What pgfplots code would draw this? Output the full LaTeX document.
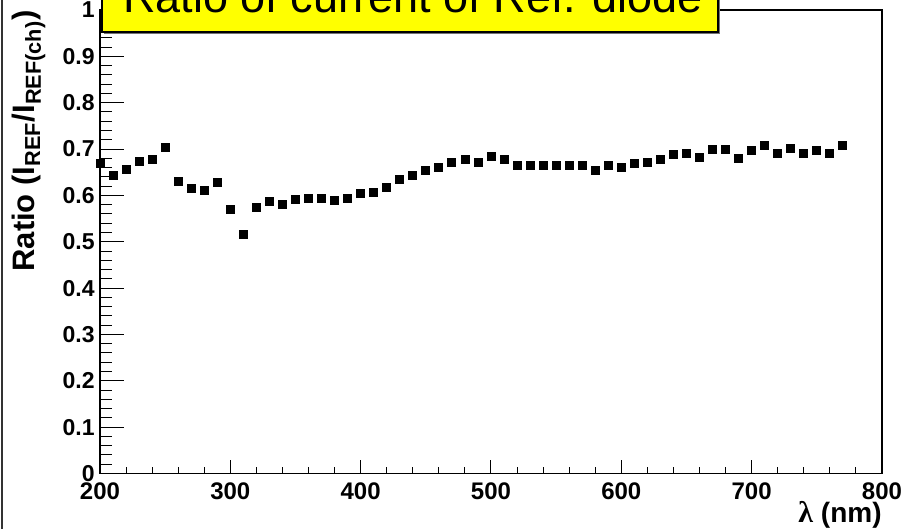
\documentclass[border=0pt]{standalone}
\usepackage{fontspec}
\setmainfont{Liberation Sans}
\newfontfamily\symfont{Liberation Serif}
\usepackage{pgfplots}
\pgfplotsset{compat=1.18}

\definecolor{paveyellow}{RGB}{255,255,0}

\begin{document}
\begin{tikzpicture}
% canvas: 906x529 px, 1px = 0.5pt, origin at the lower left corner of the frame
\useasboundingbox (-50pt,-27.75pt) rectangle (403pt,236.75pt);
\clip (-50pt,-27.75pt) rectangle (403pt,236.75pt);
\begin{axis}[
  scale only axis,
  width=391pt, height=231.75pt,
  xmin=200, xmax=800,
  ymin=0, ymax=1,
  xtick={200,300,400,500,600,700,800},
  ytick={0,0.1,0.2,0.3,0.4,0.5,0.6,0.7,0.8,0.9,1},
  minor x tick num=4,
  minor y tick num=4,
  tick align=inside,
  tick pos=left,
  axis line style={line width=0.75pt},
  every tick/.style={black, line width=0.5pt},
  xtick style={/pgfplots/major tick length=6.5pt, /pgfplots/minor tick length=3.25pt},
  ytick style={/pgfplots/major tick length=12pt, /pgfplots/minor tick length=6pt},
  /pgf/number format/assume math mode=true,
  ticklabel style={font=\fontsize{11.5}{13}\selectfont\bfseries},
  yticklabel style={inner sep=0pt, xshift=-2.5pt},
  xticklabel style={inner sep=0pt, yshift=-4.25pt, font=\fontsize{12}{13}\selectfont\bfseries},
  xlabel={{\symfont\fontsize{15}{16}\selectfont λ} (nm)},
  xlabel style={at={(rel axis cs:1,0)}, anchor=base east, yshift=-24.75pt,
    inner sep=0pt, font=\fontsize{14}{16}\selectfont\bfseries},
  ylabel={Ratio (I\textsubscript{REF}/I\textsubscript{REF(ch)})},
  ylabel style={at={(rel axis cs:0,1)}, anchor=base east, yshift=32.5pt,
    inner sep=0pt, font=\fontsize{15.5}{17}\selectfont\bfseries},
]
\addplot [only marks, mark=square*, mark size=2pt, black]
table {%
200 0.668
210 0.643
220 0.657
230 0.674
240 0.677
250 0.704
260 0.631
270 0.616
280 0.611
290 0.627
300 0.570
310 0.516
320 0.574
330 0.587
340 0.580
350 0.591
360 0.594
370 0.594
380 0.590
390 0.594
400 0.604
410 0.607
420 0.617
430 0.634
440 0.644
450 0.654
460 0.661
470 0.671
480 0.678
490 0.671
500 0.684
510 0.677
520 0.664
530 0.664
540 0.664
550 0.664
560 0.664
570 0.664
580 0.654
590 0.664
600 0.660
610 0.668
620 0.672
630 0.677
640 0.688
650 0.691
660 0.683
670 0.700
680 0.700
690 0.680
700 0.697
710 0.707
720 0.691
730 0.701
740 0.691
750 0.697
760 0.691
770 0.707
};
\end{axis}
% title pave with shadow
\fill[black!55] (2pt,219.75pt) rectangle (310pt,260pt);
\filldraw[fill=paveyellow, draw=black, line width=0.75pt] (1pt,220.75pt) rectangle (309pt,260pt);
\node[anchor=base west, inner sep=0pt, font=\fontsize{22.5}{24}\selectfont] at (11.5pt,230.25pt) {Ratio of current of Ref. diode};
% left edge of the canvas frame
\draw[black!80, line width=1pt] (-49pt,-27.75pt) -- (-49pt,236.75pt);
\end{tikzpicture}
\end{document}
